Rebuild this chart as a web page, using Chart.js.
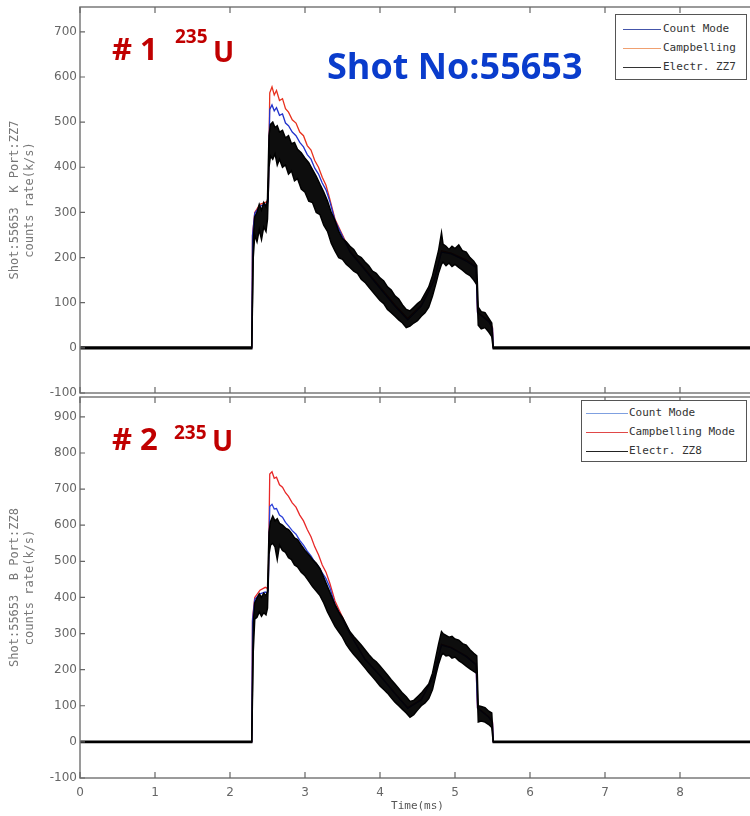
<!DOCTYPE html>
<html>
<head>
<meta charset="utf-8">
<script src="https://cdn.jsdelivr.net/npm/chart.js@4.4.1/dist/chart.umd.min.js"></script>
<style>
  html, body { margin:0; padding:0; background:#fff; overflow:hidden; width:750px; height:816px; }
  canvas { position:absolute; left:0; }
  .ann { position:absolute; line-height:1; font-family:"Open Sans", sans-serif; font-weight:bold; white-space:nowrap; }
  .red { color:#c00000; }
  .legend { position:absolute; border:1px solid #555; background:#fff; font-family:"DejaVu Sans Mono", monospace; font-size:11px; color:#333; }
  .legend .row { position:absolute; left:0; right:0; height:14px; }
  .legend .ln { position:absolute; height:0; border-top:1.5px solid; top:7px; }
  .legend .tx { position:absolute; top:0; line-height:14px; }
</style>
</head>
<body>
<canvas id="c1" width="756" height="400" style="top:0px"></canvas>
<canvas id="c2" width="756" height="426" style="top:390px"></canvas>

<div class="ann red" style="left:112px; top:33px; font-size:31px;"># 1</div>
<div class="ann red" style="left:175px; top:27px; font-size:19px;">235</div>
<div class="ann red" style="left:213px; top:37px; font-size:28px;">U</div>
<div class="ann" style="left:327px; top:48px; font-size:36px; color:#0a3ccc;">Shot No:55653</div>

<div class="ann red" style="left:112px; top:423px; font-size:31px;"># 2</div>
<div class="ann red" style="left:174px; top:423px; font-size:19px;">235</div>
<div class="ann red" style="left:212px; top:426px; font-size:28px;">U</div>

<div class="legend" style="left:615px; top:14px; width:130px; height:64px;">
  <div class="row" style="top:7px"><div class="ln" style="left:7px; width:38px; border-color:#4455aa"></div><div class="tx" style="left:47px">Count Mode</div></div>
  <div class="row" style="top:26px"><div class="ln" style="left:7px; width:38px; border-color:#f0a070"></div><div class="tx" style="left:47px">Campbelling</div></div>
  <div class="row" style="top:45px"><div class="ln" style="left:7px; width:38px; border-color:#333"></div><div class="tx" style="left:47px">Electr. ZZ7</div></div>
</div>
<div class="legend" style="left:581px; top:400px; width:164px; height:60px;">
  <div class="row" style="top:5px"><div class="ln" style="left:4px; width:42px; border-color:#7fa0e0"></div><div class="tx" style="left:47px">Count Mode</div></div>
  <div class="row" style="top:24px"><div class="ln" style="left:4px; width:42px; border-color:#e04848"></div><div class="tx" style="left:47px">Campbelling Mode</div></div>
  <div class="row" style="top:43px"><div class="ln" style="left:4px; width:42px; border-color:#222"></div><div class="tx" style="left:47px">Electr. ZZ8</div></div>
</div>

<script>
// ---------------- DATA ----------------
const xTicks = [0,1,2,3,4,5,6,7,8,9];
const yTicksTop = [-100,0,100,200,300,400,500,600,700];
const yTicksBottom = [-100,0,100,200,300,400,500,600,700,800,900];

// Electrometer (black) trace: drawn as a band between upper and lower envelopes (time in ms)
const tElectr = [0, 2.29, 2.31, 2.33, 2.36, 2.39, 2.42, 2.45, 2.48, 2.50, 2.52, 2.54, 2.57, 2.60, 2.63, 2.66, 2.70, 2.74, 2.78, 2.82, 2.86, 2.90, 2.95, 3.00, 3.05, 3.10, 3.15, 3.20, 3.25, 3.30, 3.35, 3.40, 3.45, 3.50, 3.55, 3.60, 3.65, 3.70, 3.75, 3.80, 3.85, 3.90, 3.95, 4.00, 4.05, 4.10, 4.15, 4.20, 4.25, 4.30, 4.35, 4.40, 4.45, 4.50, 4.55, 4.60, 4.65, 4.70, 4.75, 4.78, 4.82, 4.84, 4.88, 4.92, 4.96, 5.00, 5.05, 5.10, 5.15, 5.20, 5.25, 5.29, 5.31, 5.35, 5.40, 5.45, 5.49, 5.51, 9];
const zz7Upper = [2, 2, 240, 290, 300, 318, 305, 322, 312, 330, 470, 495, 500, 488, 492, 478, 482, 465, 470, 452, 455, 440, 432, 420, 410, 395, 380, 362, 345, 325, 300, 282, 258, 242, 235, 225, 218, 205, 200, 190, 182, 170, 165, 155, 148, 135, 128, 115, 108, 95, 85, 82, 90, 98, 105, 120, 135, 160, 195, 215, 255, 230, 225, 218, 225, 220, 228, 215, 212, 200, 192, 182, 90, 80, 78, 65, 55, 2, 2];
const zz7Lower = [-2, -2, 200, 250, 235, 262, 240, 268, 258, 285, 400, 425, 418, 430, 405, 418, 400, 405, 385, 392, 370, 375, 352, 345, 325, 322, 300, 295, 272, 258, 232, 215, 200, 196, 185, 178, 170, 165, 152, 145, 135, 125, 115, 105, 98, 85, 78, 70, 62, 55, 45, 48, 55, 60, 70, 78, 90, 115, 145, 165, 185, 190, 182, 188, 180, 185, 178, 172, 165, 160, 150, 140, 50, 42, 45, 35, 25, -2, -2];
const zz8Upper = [2, 2, 330, 385, 398, 410, 400, 412, 405, 418, 580, 610, 625, 612, 618, 605, 600, 592, 588, 578, 565, 560, 545, 530, 518, 505, 495, 480, 455, 430, 405, 380, 360, 345, 325, 305, 292, 280, 268, 255, 242, 230, 222, 210, 198, 185, 172, 160, 148, 135, 125, 112, 115, 125, 135, 148, 160, 190, 240, 270, 305, 300, 295, 290, 292, 285, 282, 272, 268, 255, 245, 238, 100, 98, 95, 85, 80, 2, 2];
const zz8Lower = [-2, -2, 250, 340, 345, 360, 348, 358, 352, 370, 520, 545, 550, 540, 505, 545, 530, 525, 510, 505, 490, 485, 470, 460, 445, 430, 418, 405, 385, 360, 340, 320, 305, 290, 270, 255, 242, 230, 218, 205, 192, 180, 168, 155, 145, 135, 122, 110, 100, 90, 80, 68, 75, 88, 100, 108, 120, 145, 190, 215, 240, 245, 238, 240, 232, 235, 225, 218, 210, 202, 195, 190, 55, 58, 55, 48, 40, -2, -2];

// Count mode (blue) and Campbelling (red)
const tCB = [0, 2.29, 2.30, 2.33, 2.40, 2.47, 2.50, 2.51, 2.53, 2.56, 2.59, 2.62, 2.66, 2.70, 2.74, 2.78, 2.83, 2.88, 2.93, 2.98, 3.03, 3.08, 3.13, 3.18, 3.23, 3.28, 3.33, 3.40, 3.60, 3.80, 4.00, 4.20, 4.37, 4.55, 4.72, 4.82, 4.95, 5.15, 5.28, 5.30, 5.45, 5.50, 5.51, 9];
const campTop  = [0, 0, 250, 300, 318, 322, 325, 330, 565, 578, 560, 570, 548, 552, 530, 522, 505, 498, 478, 470, 448, 438, 415, 400, 378, 360, 330, 285, 215, 175, 135, 95, 65, 95, 150, 215, 210, 195, 180, 80, 60, 45, 0, 0];
const countTop = [0, 0, 248, 298, 314, 318, 320, 325, 528, 538, 525, 532, 515, 518, 498, 492, 478, 470, 455, 445, 428, 418, 398, 385, 365, 350, 325, 282, 212, 172, 132, 92, 62, 92, 148, 212, 208, 192, 178, 78, 58, 43, 0, 0];
const campBottom  = [0, 0, 340, 400, 420, 428, 425, 430, 742, 748, 730, 733, 712, 705, 690, 680, 662, 650, 628, 612, 588, 568, 540, 518, 490, 470, 440, 390, 300, 230, 185, 135, 95, 118, 185, 270, 262, 238, 215, 95, 70, 55, 0, 0];
const countBottom = [0, 0, 335, 395, 410, 415, 412, 418, 652, 658, 645, 646, 628, 622, 608, 598, 585, 575, 558, 545, 528, 515, 498, 485, 468, 452, 428, 380, 298, 228, 183, 133, 93, 116, 183, 268, 260, 236, 213, 93, 68, 53, 0, 0];

// ---------------- HELPERS ----------------
const pts = (T, V) => T.map((t, i) => ({ x: t, y: V[i] }));
const tickFont = { family: 'DejaVu Sans', size: 12 };

const boxPlugin = {
  id: 'matlabBox',
  afterDatasetsDraw(chart) {
    const { ctx, chartArea: a, scales: { x, y } } = chart;
    ctx.save();
    ctx.strokeStyle = '#7a7a7a';
    ctx.lineWidth = 1.5;
    ctx.strokeRect(a.left, a.top, a.right - a.left, a.bottom - a.top);
    ctx.lineWidth = 1.2;
    ctx.strokeStyle = '#666';
    ctx.beginPath();
    x.ticks.forEach(t => {
      const px = x.getPixelForValue(t.value);
      ctx.moveTo(px, a.bottom); ctx.lineTo(px, a.bottom - 6);
      ctx.moveTo(px, a.top); ctx.lineTo(px, a.top + 6);
    });
    y.ticks.forEach(t => {
      const py = y.getPixelForValue(t.value);
      ctx.moveTo(a.left, py); ctx.lineTo(a.left + 5, py);
      ctx.moveTo(a.right, py); ctx.lineTo(a.right - 5, py);
    });
    ctx.stroke();
    ctx.restore();
  }
};

function makeChart(id, cfg) {
  const datasets = [
    { label: cfg.electrLabel + ' upper', data: pts(tElectr, cfg.upper), borderColor: '#000', backgroundColor: 'rgba(0,0,0,0.95)', borderWidth: 1.5, fill: '+1', order: 0 },
    { label: cfg.electrLabel, data: pts(tElectr, cfg.lower), borderColor: '#000', borderWidth: 1.5, fill: false, order: 1 },
    { label: 'Count Mode', data: pts(tCB, cfg.count), borderColor: cfg.blue, borderWidth: 1.3, fill: false, order: 2 },
    { label: cfg.campLabel, data: pts(tCB, cfg.camp), borderColor: cfg.red, borderWidth: 1.3, fill: false, order: 3 }
  ];
  return new Chart(document.getElementById(id), {
    type: 'line',
    data: { datasets },
    plugins: [boxPlugin],
    options: {
      responsive: false,
      animation: false,
      parsing: false,
      elements: { point: { radius: 0 }, line: { tension: 0 } },
      layout: { padding: { top: 7, right: 1, left: 0, bottom: 0 } },
      plugins: { legend: { display: false }, tooltip: { enabled: false } },
      scales: {
        x: {
          type: 'linear', min: 0, max: 9,
          grid: { display: false, drawTicks: false },
          border: { display: false },
          afterBuildTicks: s => { s.ticks = xTicks.map(v => ({ value: v })); },
          ticks: { display: cfg.showX, color: '#666', font: tickFont, padding: 8, maxRotation: 0 },
          title: { display: cfg.showX, text: 'Time(ms)', color: '#555', font: { family: 'DejaVu Sans Mono', size: 11, lineHeight: 1.2 }, padding: { top: 0, bottom: 3.5 } },
          afterFit: s => { s.height = cfg.xHeight; s.paddingLeft = 0; s.paddingRight = 0; }
        },
        y: {
          type: 'linear', min: -100, max: cfg.ymax,
          grid: { display: false, drawTicks: false },
          border: { display: false },
          afterBuildTicks: s => { s.ticks = cfg.yTicks.map(v => ({ value: v })); },
          ticks: { color: '#666', font: tickFont, padding: 3 },
          title: { display: true, text: cfg.yTitle, color: '#777', font: { family: 'DejaVu Sans Mono', size: 12, lineHeight: 15 / 12 }, padding: { top: 7.5, bottom: 0 } },
          afterFit: s => { s.width = 80; s.paddingTop = 0; s.paddingBottom = 0; }
        }
      }
    }
  });
}

makeChart('c1', {
  upper: zz7Upper, lower: zz7Lower, count: countTop, camp: campTop,
  electrLabel: 'Electr. ZZ7', campLabel: 'Campbelling',
  blue: '#2233cc', red: '#e8321e',
  ymax: 755, yTicks: yTicksTop, showX: false, xHeight: 7,
  yTitle: ['Shot:55653  K Port:ZZ7', 'counts rate(k/s)']
});
makeChart('c2', {
  upper: zz8Upper, lower: zz8Lower, count: countBottom, camp: campBottom,
  electrLabel: 'Electr. ZZ8', campLabel: 'Campbelling Mode',
  blue: '#2a3fd8', red: '#e82828',
  ymax: 955, yTicks: yTicksBottom, showX: true, xHeight: 38,
  yTitle: ['Shot:55653  B Port:ZZ8', 'counts rate(k/s)']
});
</script>
</body>
</html>
